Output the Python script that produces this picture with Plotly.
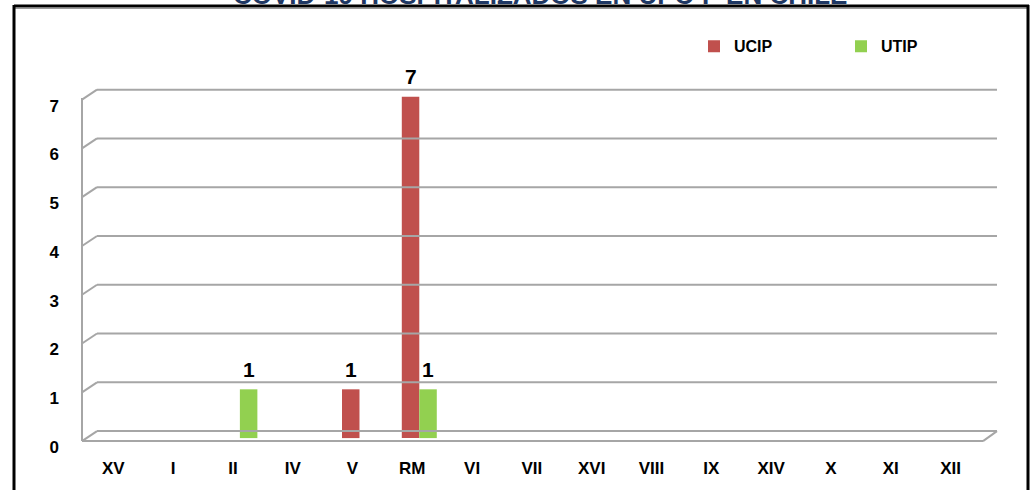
import plotly.graph_objects as go

categories = ["XV", "I", "II", "IV", "V", "RM", "VI", "VII", "XVI", "VIII", "IX", "XIV", "X", "XI", "XII"]
ucip = [0, 0, 0, 0, 1, 7, 0, 0, 0, 0, 0, 0, 0, 0, 0]
utip = [0, 0, 1, 0, 0, 1, 0, 0, 0, 0, 0, 0, 0, 0, 0]
y_ticks = [0, 1, 2, 3, 4, 5, 6, 7]
title_text = "COVID-19 HOSPITALIZADOS EN UPC-P EN CHILE"

RED = "#C0504D"
GREEN = "#92D050"
GRID = "#A6A6A6"
FONT = "Liberation Sans Narrow, Liberation Sans, Arial"

fig = go.Figure()
fig.add_trace(go.Bar(name="UCIP", x=categories, y=ucip, marker=dict(color=RED, line=dict(width=0))))
fig.add_trace(go.Bar(name="UTIP", x=categories, y=utip, marker=dict(color=GREEN, line=dict(width=0))))

shapes = []
# back-wall gridlines and left wall diagonals (3D look)
for k in y_ticks:
    shapes.append(dict(type="line", xref="paper", yref="y", x0=15 / 915, x1=1,
                       ysizemode="pixel", yanchor=k, y0=7, y1=7,
                       line=dict(color=GRID, width=2)))
    shapes.append(dict(type="line", xref="paper", yref="y", xsizemode="pixel", xanchor=0,
                       x0=0, x1=15, ysizemode="pixel", yanchor=k, y0=-3, y1=7,
                       line=dict(color=GRID, width=2)))
# left wall front edge
shapes.append(dict(type="line", xref="paper", yref="y", x0=0, x1=0,
                   ysizemode="pixel", yanchor=0, y0=-3, y1=max(y_ticks) * 49 - 3,
                   line=dict(color=GRID, width=2)))
# floor front edge and right diagonal
shapes.append(dict(type="line", xref="paper", yref="y", x0=0, x1=901 / 915,
                   ysizemode="pixel", yanchor=0, y0=-3, y1=-3,
                   line=dict(color=GRID, width=2)))
shapes.append(dict(type="line", xref="paper", yref="y", xsizemode="pixel", xanchor=1,
                   x0=-14, x1=0, ysizemode="pixel", yanchor=0, y0=-3, y1=7,
                   line=dict(color=GRID, width=2)))
# outer frame
shapes.append(dict(type="line", xref="paper", yref="paper", xsizemode="pixel", xanchor=0,
                   x0=-68, x1=947, ysizemode="pixel", yanchor=1, y0=76, y1=76,
                   line=dict(color="black", width=3)))
shapes.append(dict(type="line", xref="paper", yref="paper", xsizemode="pixel", xanchor=0,
                   x0=-68, x1=947, ysizemode="pixel", yanchor=1, y0=73.5, y1=73.5,
                   line=dict(color="#9A9A9A", width=1)))
shapes.append(dict(type="line", xref="paper", yref="paper", xsizemode="pixel", xanchor=0,
                   x0=-68, x1=-68, ysizemode="pixel", yanchor=1, y0=77, y1=-420,
                   line=dict(color="black", width=3)))
shapes.append(dict(type="line", xref="paper", yref="paper", xsizemode="pixel", xanchor=0,
                   x0=946, x1=946, ysizemode="pixel", yanchor=1, y0=77, y1=-420,
                   line=dict(color="black", width=3)))

annotations = []
for series, shift in ((ucip, -8.75), (utip, 8.75)):
    for cat, v in zip(categories, series):
        if v > 0:
            annotations.append(dict(x=cat, y=v, xref="x", yref="y", text=str(v),
                                    showarrow=False, xshift=shift, yshift=20,
                                    font=dict(family=FONT, size=21, color="black", weight="bold")))
annotations.append(dict(x=0.5, y=1, xref="paper", yref="paper", yanchor="bottom",
                        yshift=70, text=title_text, showarrow=False,
                        font=dict(family=FONT, size=26, color="#1F3864", weight="bold")))

fig.update_layout(
    width=1031, height=490,
    margin=dict(l=82, r=34, t=82, b=46),
    paper_bgcolor="white", plot_bgcolor="white",
    barmode="group", bargap=0.415, bargroupgap=0,
    showlegend=True,
    legend=dict(orientation="h", x=(694 - 82) / 915, xanchor="left",
                y=(443.9 - 46) / 362, yanchor="middle", entrywidth=102,
                font=dict(family=FONT, size=16, color="black", weight="bold"),
                bgcolor="rgba(0,0,0,0)"),
    shapes=shapes,
    annotations=annotations,
    xaxis=dict(type="category", range=[-0.64, 14.66], showgrid=False, zeroline=False,
               showline=False, ticks="", ticklabelshift=-7, ticklabelstandoff=14,
               tickfont=dict(family=FONT, size=17, color="black", weight="bold")),
    yaxis=dict(range=[-0.08, 7.3], tickvals=y_ticks, showgrid=False, zeroline=False,
               showline=False, ticks="", ticklabelshift=9, ticklabelstandoff=22,
               tickfont=dict(family=FONT, size=17, color="black", weight="bold")),
)

fig.write_html("out.html", config={"displayModeBar": False},
               post_script="document.body.style.margin='0';document.body.style.overflow='hidden';")
